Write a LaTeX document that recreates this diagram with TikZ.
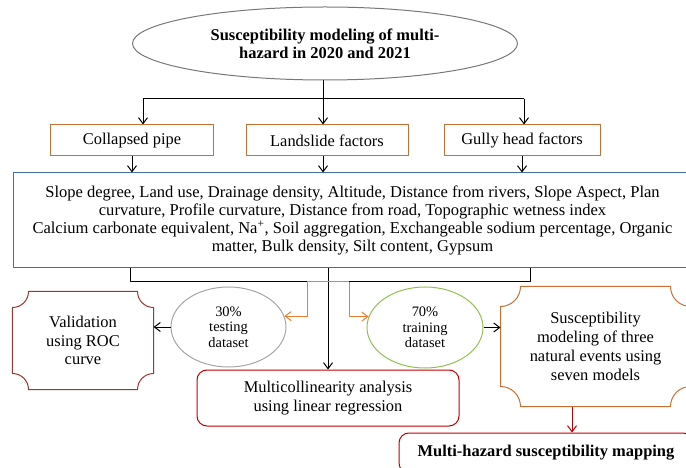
\documentclass[tikz,border=0pt]{standalone}
\usepackage{fontspec}
\setmainfont{Liberation Serif}
\usetikzlibrary{shapes.geometric,arrows.meta}
\definecolor{boxorange}{RGB}{200,112,52}
\definecolor{lineorange}{RGB}{237,125,49}
\definecolor{boxblue}{RGB}{65,113,156}
\definecolor{plaquered}{RGB}{160,52,50}
\definecolor{boxred}{RGB}{192,0,0}
\definecolor{titlegray}{RGB}{120,120,120}
\definecolor{testgray}{RGB}{166,166,166}
\definecolor{traingreen}{RGB}{146,192,80}
\begin{document}
\begin{tikzpicture}[x=1bp,y=-1bp,line join=round,line width=1bp,>={Straight Barb[length=6bp,width=9bp]}]
	\tikzset{factor/.style={draw=boxorange,minimum width=162bp,minimum height=31bp,inner sep=0pt,font=\fontsize{16.5}{19}\selectfont},
		dataell/.style={ellipse,draw,minimum width=115bp,minimum height=80bp,inner sep=0pt,align=center,font=\fontsize{14.5}{15.5}\selectfont},
		plaque/.style={inner sep=0pt,align=center,font=\fontsize{16.5}{18.7}\selectfont},
		roundbox/.style={draw=boxred,rounded corners=10bp,inner sep=0pt,align=center,font=\fontsize{16.5}{19}\selectfont}}
	\clip (0,0) rectangle (686,468);
	% top of the chart
	\node[ellipse,draw=titlegray,minimum width=385bp,minimum height=73bp,inner sep=0pt,align=center,font=\fontsize{16.5}{18}\selectfont\bfseries] (title) at (325,43.5) {Susceptibility modeling of multi-\\hazard in 2020 and 2021};
	\node[factor] (col) at (132,140.5) {Collapsed pipe};
	\node[factor] (land) at (327,140.5) {Landslide factors};
	\node[factor,minimum width=156bp] (gully) at (522,140.5) {Gully head factors};
	\node[draw=boxblue,minimum width=677bp,minimum height=95bp,inner sep=0pt,align=center,font=\fontsize{16.6}{18}\selectfont] (big) at (352.5,220.5)
	{Slope degree, Land use, Drainage density, Altitude, Distance from rivers, Slope Aspect, Plan\\
		curvature, Profile curvature, Distance from road, Topographic wetness index\\
		Calcium carbonate equivalent, Na\textsuperscript{+}, Soil aggregation, Exchangeable sodium percentage, Organic\\
		matter, Bulk density, Silt content, Gypsum};
	\coordinate (tbar) at (323,99);
	\coordinate (barl) at (143,99);
	\coordinate (barr) at (524,99);
	\draw (tbar |- title.south) -- (tbar);
	\draw (barl) -- (barr);
	\draw[->] (barl) -- (barl |- col.north);
	\draw[->] (tbar) -- (tbar |- land.north);
	\draw[->] (barr) -- (barr |- gully.north);
	\draw[->] (col.south) -- (col.south |- big.north);
	\draw[->] (tbar |- land.south) -- (tbar |- big.north);
	\draw[->] (gully.south) -- (gully.south |- big.north);
	% lower part
	\node[dataell,draw=testgray] (test) at (228.5,327) {30\%\\testing\\dataset};
	\node[dataell,draw=traingreen,minimum width=116bp,minimum height=81bp] (train) at (425,327.5) {70\%\\training\\dataset};
	\node[plaque,minimum width=140bp,minimum height=97bp] (valid) at (83,340.5) {Validation\\using ROC\\curve};
	\node[plaque,minimum width=189bp,minimum height=119bp,font=\fontsize{16.5}{19}\selectfont] (model) at (595.5,346.5) {Susceptibility\\modeling of three\\natural events using\\seven models};
	\node[roundbox,minimum width=262bp,minimum height=56bp] (mca) at (328,398) {Multicollinearity analysis\\using linear regression};
	\node[roundbox,minimum width=294bp,minimum height=40bp,font=\fontsize{16.5}{19}\selectfont\bfseries] (mh) at (546,453) {Multi-hazard susceptibility mapping};
	\draw[plaquered] ([xshift=16bp]valid.north west) -- ([xshift=-16bp]valid.north east) arc[start angle=180,end angle=90,radius=16]
	-- ([yshift=16bp]valid.south east) arc[start angle=270,end angle=180,radius=16]
	-- ([xshift=16bp]valid.south west) arc[start angle=0,end angle=-90,radius=16]
	-- ([yshift=-16bp]valid.north west) arc[start angle=90,end angle=0,radius=16] -- cycle;
	\draw[boxorange] ([xshift=20bp]model.north west) -- ([xshift=-20bp]model.north east) arc[start angle=180,end angle=90,radius=20]
	-- ([yshift=20bp]model.south east) arc[start angle=270,end angle=180,radius=20]
	-- ([xshift=20bp]model.south west) arc[start angle=0,end angle=-90,radius=20]
	-- ([yshift=-20bp]model.north west) arc[start angle=90,end angle=0,radius=20] -- cycle;
	\coordinate (bl) at (130,282);
	\coordinate (br) at (530,282);
	\coordinate (ol) at (307,282);
	\coordinate (or) at (349,282);
	\draw (bl |- big.south) -- (bl) -- (br) -- (br |- big.south);
	\draw[->] (mca.north |- big.south) -- (mca.north);
	\draw[lineorange] (ol) -- (or);
	\draw[lineorange,->] (ol) |- (test.11);
	\draw[lineorange,->] (or) |- (train.169);
	\draw[->] (test.west) -- (test.west -| valid.east);
	\draw[->] (train.east) -- (train.east -| model.west);
	\path ([xshift=-23.5bp]model.south) coordinate (mdown);
	\draw[boxred,->] (mdown) -- (mdown |- mh.north);
\end{tikzpicture}
\end{document}
